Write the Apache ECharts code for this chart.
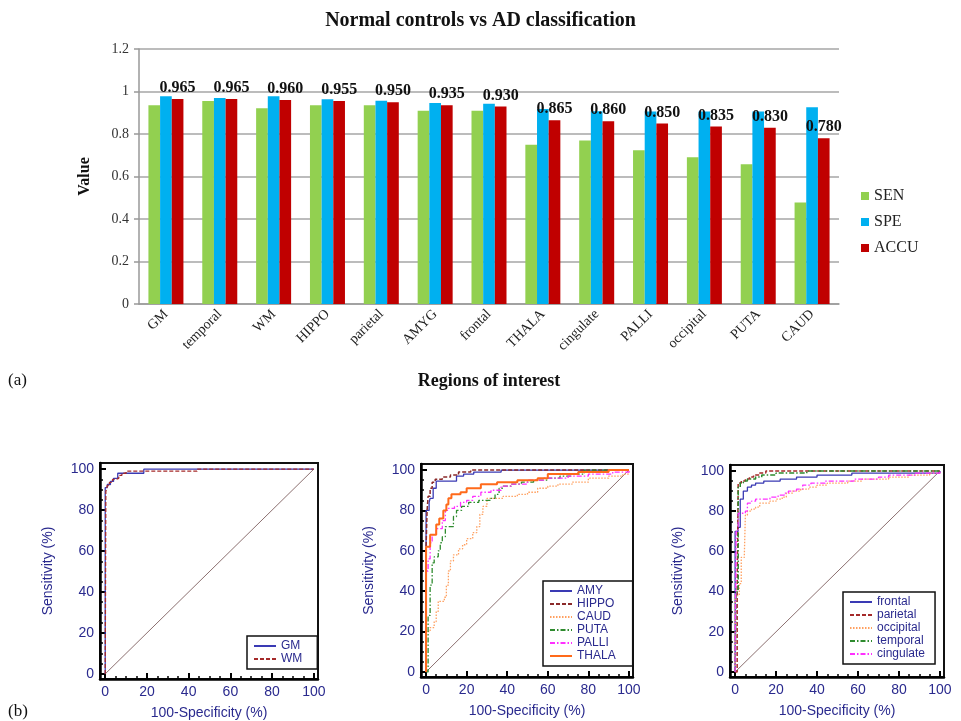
<!DOCTYPE html>
<html>
<head>
<meta charset="utf-8">
<title>Normal controls vs AD classification</title>
<script src="https://cdn.jsdelivr.net/npm/echarts@6/dist/echarts.min.js"></script>
<style>
html, body { margin: 0; padding: 0; background: #fff; }
#main { width: 961px; height: 721px; }
</style>
</head>
<body>
<div id="main"></div>
<script>
// (a) bar chart values
var regions = ['GM', 'temporal', 'WM', 'HIPPO', 'parietal', 'AMYG', 'frontal', 'THALA', 'cingulate', 'PALLI', 'occipital', 'PUTA', 'CAUD'];
var sen  = [0.935, 0.955, 0.921, 0.935, 0.935, 0.909, 0.909, 0.750, 0.769, 0.724, 0.691, 0.658, 0.478];
var spe  = [0.978, 0.970, 0.978, 0.963, 0.956, 0.946, 0.942, 0.918, 0.907, 0.906, 0.906, 0.906, 0.926];
var accu = [0.965, 0.965, 0.960, 0.955, 0.950, 0.935, 0.930, 0.865, 0.860, 0.850, 0.835, 0.830, 0.780];

// (b) ROC axes
var rocTicks = [0, 20, 40, 60, 80, 100];
var rocMinorTicks = [5, 10, 15, 25, 30, 35, 45, 50, 55, 65, 70, 75, 85, 90, 95];
var diagonal = [[0, 0], [100, 100]];

// ROC curves: [100-specificity, sensitivity] at each step
var gmRoc = [[0, 0], [0, 91], [1, 92.5], [2.5, 94], [4, 95.5], [6, 98], [18.5, 100], [100, 100]];
var wmRoc = [[0, 0], [0.3, 89], [1, 92], [2, 93.5], [3.5, 95], [5, 95.5], [6.5, 97], [8, 98], [10, 99], [44, 100], [100, 100]];

var amyRoc = [[0, 0], [0, 80], [1.5, 84], [2, 86], [3.5, 91], [5, 94.5], [15, 97], [18.5, 98], [23.5, 99], [37, 100], [100, 100]];
var hippoRoc = [[0, 0], [0, 62], [0.5, 80], [1, 87], [2, 91], [3, 94], [4.5, 95.5], [8, 96.5], [12, 97.5], [16, 99], [22, 100], [100, 100]];
var caudRoc = [[0, 0], [0, 20], [2, 22], [4, 25], [5, 30], [6, 35], [9, 37], [10, 43], [11, 50], [12, 55], [13.5, 58], [16, 61], [18, 63], [20, 66], [23, 69], [25, 72], [26.5, 78], [28, 82], [30, 86], [38, 87], [45, 88], [50, 89], [55, 91], [60, 92], [65, 93], [72, 94], [80, 96], [90, 97], [97, 98], [100, 100]];
var putaRoc = [[0, 0], [1, 28], [2, 43], [3, 54], [4, 57], [6, 60], [7, 64], [8, 67], [9.5, 72], [13.5, 77], [15, 80], [17.5, 82], [21, 84], [26, 85], [32, 86], [34, 88], [36, 91], [38, 92], [42, 93], [47, 94], [53, 95], [60, 96], [66, 97], [72, 98], [78, 100], [100, 100]];
var palliRoc = [[0, 0], [0, 50], [1, 56], [2, 64], [3, 68], [5, 71], [8, 75], [9.5, 80], [11, 81], [14, 82], [17, 84], [20, 85], [23, 87], [27, 89], [32, 90], [37, 92], [42, 93], [50, 95], [58, 96], [70, 97], [80, 98], [92, 99], [100, 100]];
var thalaRoc = [[0, 0], [0, 62], [2, 68], [5, 73], [6.5, 76], [8.5, 80], [10, 83], [11, 86], [12.5, 88], [17, 89], [20, 91], [27, 93], [35, 94], [45, 95], [55, 96], [60, 98], [75, 99], [90, 100], [100, 100]];

var frontalRoc = [[0, 0], [0, 70], [1.5, 72], [2.5, 86], [4, 90], [6, 92], [8, 93], [10, 94], [14, 95], [22, 96], [30, 97], [40, 98], [57, 99], [100, 100]];
var parietalRoc = [[0, 0], [1, 40], [1.5, 94], [3, 95], [5, 96], [7, 97], [9, 98], [12, 99], [15, 100], [100, 100]];
var occipitalRoc = [[0, 0], [0, 38], [2, 44], [3, 57], [4.5, 58], [5, 78], [6, 80], [8, 81], [10, 82], [12, 84], [17, 85], [20, 86], [23, 87], [25, 89], [28, 90], [32, 91], [36, 92], [40, 93], [45, 94], [55, 95], [62, 96], [75, 97], [85, 98], [95, 99], [100, 100]];
var temporalRoc = [[0, 0], [0.5, 40], [1.5, 92], [2.5, 94], [4, 95], [6, 96], [10, 97], [13, 98], [20, 99], [35, 100], [100, 100]];
var cingulateRoc = [[0, 0], [0, 2], [0.5, 70], [1.5, 79], [5, 80], [6, 84], [8, 85], [10, 86], [17, 87], [21, 88], [24, 89], [26, 90], [30, 91], [33, 93], [37, 94], [44, 95], [58, 96], [70, 97], [75, 98], [88, 99], [100, 100]];

var chart = echarts.init(document.getElementById('main'));

var SERIF = 'Liberation Serif';
var SANS = 'Liberation Sans';
var NAVY = '#2a2a8e';
var DASHED = [4, 2];
var DOTTED = [1.5, 1.5];
var DASHDOT = [5, 2, 1.5, 2];

var rocGrids = [
    {left: 100, top: 463, width: 218, height: 217},
    {left: 421, top: 464, width: 212, height: 213},
    {left: 730, top: 465, width: 214, height: 212}
];

var grids = [{left: 139, top: 49, width: 700, height: 255}];
var xAxes = [{
    type: 'category',
    gridIndex: 0,
    data: regions,
    name: 'Regions of interest',
    nameLocation: 'middle',
    nameGap: 68,
    nameTextStyle: {fontFamily: SERIF, fontWeight: 'bold', fontSize: 18, color: '#111'},
    axisLine: {lineStyle: {color: '#999', width: 1.5}},
    axisTick: {length: 5, lineStyle: {color: '#999', width: 1.5}},
    axisLabel: {rotate: 45, interval: 0, margin: 8, fontFamily: SERIF, fontSize: 14, color: '#222'}
}];
var yAxes = [{
    type: 'value',
    gridIndex: 0,
    min: 0,
    max: 1.2,
    interval: 0.2,
    name: 'Value',
    nameLocation: 'middle',
    nameGap: 46,
    nameTextStyle: {fontFamily: SERIF, fontWeight: 'bold', fontSize: 16, color: '#111'},
    axisLine: {show: true, lineStyle: {color: '#999', width: 1.5}},
    axisTick: {show: true, length: 5, lineStyle: {color: '#999', width: 1.5}},
    axisLabel: {margin: 10, fontFamily: SERIF, fontSize: 14, color: '#333'},
    splitLine: {lineStyle: {color: '#a6a6a6', width: 1.5}}
}];

// ROC panels: main axis + an overlaid axis only for minor ticks
rocGrids.forEach(function (g, i) {
    grids.push({left: g.left, top: g.top, width: g.width, height: g.height, show: true, borderColor: '#111', borderWidth: 2});
    var gi = i + 1;
    xAxes.push({
        type: 'value', gridIndex: gi, min: -2.5, max: 102, position: 'bottom',
        name: '100-Specificity (%)', nameLocation: 'middle', nameGap: 27,
        nameTextStyle: {fontFamily: SANS, fontSize: 14, color: NAVY},
        axisLine: {onZero: false, lineStyle: {color: '#000', width: 2.5}},
        axisTick: {inside: true, length: 6, customValues: rocTicks, lineStyle: {color: '#000', width: 2}},
        axisLabel: {customValues: rocTicks, margin: 6, fontFamily: SANS, fontSize: 14, color: NAVY},
        splitLine: {show: false}
    });
    yAxes.push({
        type: 'value', gridIndex: gi, min: -2.5, max: 103, position: 'left',
        name: 'Sensitivity (%)', nameLocation: 'middle', nameGap: 45,
        nameTextStyle: {fontFamily: SANS, fontSize: 14, color: NAVY},
        axisLine: {show: true, onZero: false, lineStyle: {color: '#000', width: 2.5}},
        axisTick: {show: true, inside: true, length: 6, customValues: rocTicks, lineStyle: {color: '#000', width: 2}},
        axisLabel: {customValues: rocTicks, margin: 6, fontFamily: SANS, fontSize: 14, color: NAVY},
        splitLine: {show: false}
    });
});
rocGrids.forEach(function (g, i) {
    var gi = i + 1;
    xAxes.push({
        type: 'value', gridIndex: gi, min: -2.5, max: 102, position: 'bottom',
        axisLine: {show: false, onZero: false},
        axisTick: {inside: true, length: 3, customValues: rocMinorTicks, lineStyle: {color: '#000', width: 1.5}},
        axisLabel: {show: false},
        splitLine: {show: false}
    });
    yAxes.push({
        type: 'value', gridIndex: gi, min: -2.5, max: 103, position: 'left',
        axisLine: {show: false, onZero: false},
        axisTick: {show: true, inside: true, length: 3, customValues: rocMinorTicks, lineStyle: {color: '#000', width: 1.5}},
        axisLabel: {show: false},
        splitLine: {show: false}
    });
});

function rocLine(name, data, color, dash, width, gi) {
    return {
        name: name,
        type: 'line',
        xAxisIndex: gi,
        yAxisIndex: gi,
        data: data,
        step: 'end',
        symbol: 'none',
        z: 3,
        itemStyle: {color: color},
        lineStyle: {color: color, width: width, type: dash}
    };
}

function barSeries(name, data, color) {
    return {
        name: name,
        type: 'bar',
        xAxisIndex: 0,
        yAxisIndex: 0,
        data: data,
        barGap: '0%',
        barCategoryGap: '35%',
        itemStyle: {color: color}
    };
}

var series = [
    barSeries('SEN', sen, '#92d050'),
    barSeries('SPE', spe, '#00b0f0'),
    barSeries('ACCU', accu, '#c00000')
];
series[2].label = {
    show: true,
    position: 'top',
    distance: 3,
    fontFamily: SERIF,
    fontWeight: 'bold',
    fontSize: 16,
    color: '#111',
    formatter: function (p) { return p.value.toFixed(3); }
};

for (var k = 1; k <= 3; k++) {
    series.push({
        name: 'chance' + k, type: 'line', xAxisIndex: k, yAxisIndex: k,
        data: diagonal, symbol: 'none', z: 2,
        lineStyle: {color: '#8c7070', width: 1}
    });
}

series.push(
    rocLine('GM', gmRoc, '#3a3ab4', 'solid', 1.3, 1),
    rocLine('WM', wmRoc, '#a52a2a', DASHED, 1.3, 1),

    rocLine('AMY', amyRoc, '#3a3ab4', 'solid', 1.3, 2),
    rocLine('HIPPO', hippoRoc, '#8b2a2a', DASHED, 1.5, 2),
    rocLine('CAUD', caudRoc, '#ffa060', DOTTED, 1.3, 2),
    rocLine('PUTA', putaRoc, '#2e8b2e', DASHDOT, 1.3, 2),
    rocLine('PALLI', palliRoc, '#ff30ff', DASHDOT, 1.3, 2),
    rocLine('THALA', thalaRoc, '#ff6a1a', 'solid', 2, 2),

    rocLine('frontal', frontalRoc, '#3a3ab4', 'solid', 1.3, 3),
    rocLine('parietal', parietalRoc, '#a52a2a', DASHED, 1.5, 3),
    rocLine('occipital', occipitalRoc, '#ffa060', DOTTED, 1.3, 3),
    rocLine('temporal', temporalRoc, '#2e8b2e', DASHDOT, 1.5, 3),
    rocLine('cingulate', cingulateRoc, '#ff30ff', DASHDOT, 1.3, 3)
);

function rocLegend(names, left, top, padding) {
    return {
        data: names,
        orient: 'vertical',
        left: left,
        top: top,
        itemWidth: 22,
        itemHeight: 10,
        itemGap: 1,
        padding: padding,
        borderColor: '#111',
        borderWidth: 1.5,
        selectedMode: false,
        // line only, hide the marker drawn on it
        itemStyle: {opacity: 0},
        textStyle: {fontFamily: SANS, fontSize: 12, color: NAVY}
    };
}

var option = {
    backgroundColor: '#fff',
    animation: false,
    title: {
        text: 'Normal controls vs AD classification',
        left: 'center',
        top: 6,
        textStyle: {fontFamily: SERIF, fontWeight: 'bold', fontSize: 20, color: '#111'}
    },
    legend: [
        {
            data: ['SEN', 'SPE', 'ACCU'],
            orient: 'vertical',
            left: 861,
            top: 188,
            padding: 0,
            itemWidth: 8,
            itemHeight: 8,
            itemGap: 10,
            icon: 'rect',
            selectedMode: false,
            textStyle: {fontFamily: SERIF, fontSize: 16, color: '#222'}
        },
        rocLegend(['GM', 'WM'], 247, 636, [4, 15, 4, 6]),
        rocLegend(['AMY', 'HIPPO', 'CAUD', 'PUTA', 'PALLI', 'THALA'], 543, 581, [4, 17, 4, 6]),
        rocLegend(['frontal', 'parietal', 'occipital', 'temporal', 'cingulate'], 843, 592, [4, 10, 4, 6])
    ],
    grid: grids,
    xAxis: xAxes,
    yAxis: yAxes,
    series: series,
    graphic: [
        {type: 'text', left: 8, top: 372, style: {text: '(a)', fontFamily: SERIF, fontSize: 17, fill: '#111'}},
        {type: 'text', left: 8, top: 703, style: {text: '(b)', fontFamily: SERIF, fontSize: 17, fill: '#111'}}
    ]
};

chart.setOption(option);
</script>
</body>
</html>
